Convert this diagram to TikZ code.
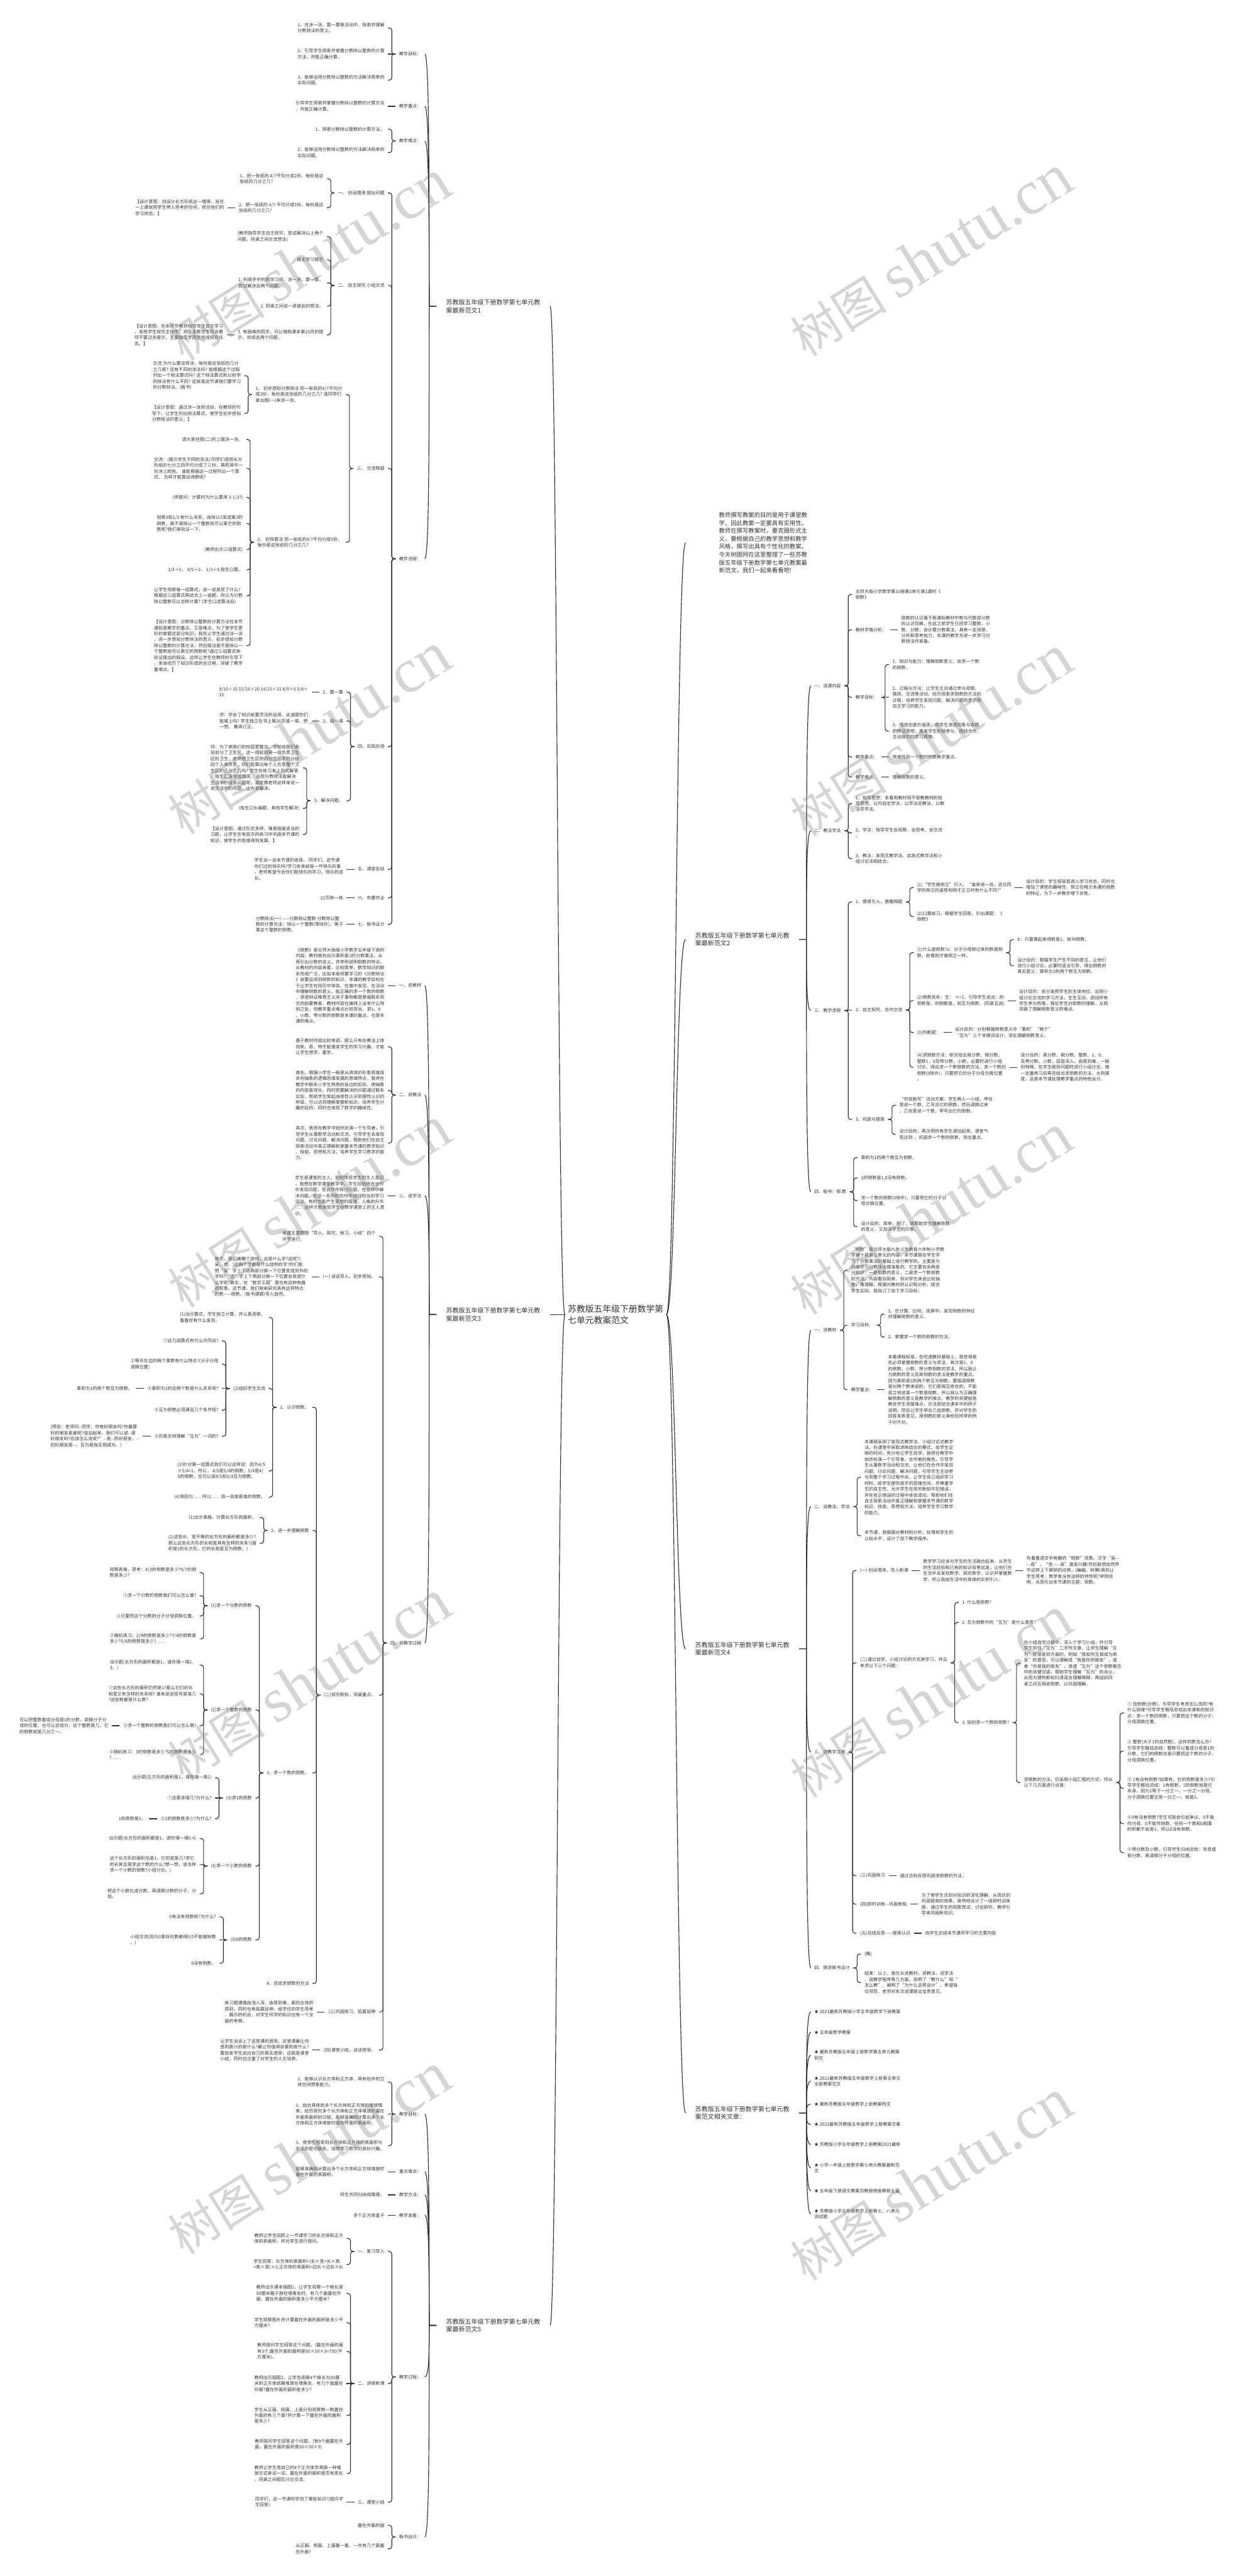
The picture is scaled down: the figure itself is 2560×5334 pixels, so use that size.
\documentclass[tikz,border=0pt]{standalone}
\usepackage{fontspec}
\setmainfont{Noto Sans CJK SC}
\newfontfamily\wmlatin{Liberation Serif}
\usetikzlibrary{calc}
\definecolor{txt}{HTML}{333333}
\definecolor{lc}{HTML}{333333}
\newcommand\myfs{\fontsize{9.2}{12.3}\selectfont}
\newcommand\myft{\fontsize{13}{16.5}\selectfont}
\newcommand\myfi{\fontsize{12.2}{16.4}\selectfont}
\newcommand\myfr{\fontsize{18}{24}\selectfont}
\tikzset{
 tl/.style={anchor=east, align=left, inner xsep=7pt, inner ysep=1pt, font=\myfs, text=txt},
 tr/.style={anchor=west, align=left, inner xsep=7pt, inner ysep=1pt, font=\myfs, text=txt},
 ttl/.style={anchor=west, align=left, inner xsep=20pt, inner ysep=1pt, font=\myft, text=txt},
 curv/.style={draw=lc, line width=1.5pt},
 wm/.style={rotate=32, text=gray, text opacity=0.33, inner sep=0pt},
}
\newcommand\mkconn[3]{%
 \path let \p1=(#1), \p2=(#2) in \pgfextra{\pgfmathsetmacro\mydy{abs(\y1-\y2)}\xdef\gdy{\mydy}};%
 \ifdim\gdy pt<1pt
   \draw[curv] (#1) -- (#2);%
 \else
   \pgfmathsetmacro\myrr{min(5,\gdy/2)}%
   \draw[curv, rounded corners=\myrr pt] (#1) -- ++(#3,0) |- (#2);%
 \fi}
\newcommand\lnode[4]{\node[tl] (#1) at ([xshift=-16pt]#2.west |- 0,#3) {#4};\mkconn{#2.west}{#1.east}{-8}}
\newcommand\rnode[4]{\node[tr] (#1) at ([xshift=16pt]#2.east |- 0,#3) {#4};\mkconn{#2.east}{#1.west}{8}}
\newcommand\ltnode[4]{\node[tl] (#1) at ([xshift=-24pt]#2.west |- 0,#3) {#4};\draw[curv] (#2.west) -- ++(-15,0) coordinate (tmp) .. controls ($(tmp)!0.5!(tmp |- #1.east)$) and (tmp |- #1.east) .. (#1.east);}
\newcommand\rtnode[4]{\node[tr] (#1) at ([xshift=24pt]#2.east |- 0,#3) {#4};\draw[curv] (#2.east) -- ++(15,0) coordinate (tmp) .. controls ($(tmp)!0.5!(tmp |- #1.west)$) and (tmp |- #1.west) .. (#1.west);}
\newcommand\rootl[1]{\draw[curv] let \p1=(root.west), \p2=(#1.east) in (\p1) .. controls ({(\x1+\x2)/2},\y1) and ({(\x1+\x2)/2},\y2) .. (\p2);}
\newcommand\rootr[1]{\draw[curv] let \p1=(root.east), \p2=(#1.west) in (\p1) .. controls ({(\x1+\x2)/2},\y1) and ({(\x1+\x2)/2},\y2) .. (\p2);}
\newcommand\wmtext{{\fontsize{100}{100}\selectfont 树图}\hspace{24pt}{\wmlatin\fontsize{130}{130}\selectfont shutu.cn}}
\begin{document}
\begin{tikzpicture}[x=1pt,y=-1pt]
\fill[white] (0,0) rectangle (2560,5334);
\useasboundingbox (0,0) rectangle (2560,5334);

\node[anchor=west, align=left, inner xsep=6pt, inner ysep=2pt, font=\myfr, text=txt] (root) at (1170,2722) {苏教版五年级下册数学第\\七单元教案范文};

\node[ttl] (ba) at (904,634) {苏教版五年级下册数学第七单元教\\案最新范文1};
\node[ttl] (bc) at (904,2722) {苏教版五年级下册数学第七单元教\\案最新范文3};
\node[ttl] (be) at (904,4815) {苏教版五年级下册数学第七单元教\\案最新范文5};
\node[ttl] (bb) at (1420,1945) {苏教版五年级下册数学第七单元教\\案最新范文2};
\node[ttl] (bd) at (1420,3414) {苏教版五年级下册数学第七单元教\\案最新范文4};
\node[ttl] (bf) at (1420,4375) {苏教版五年级下册数学第七单元教\\案范文相关文章：};
\node[anchor=west, align=left, inner xsep=7pt, font=\myfi, text=txt] (intro) at (1482,1124) {教师撰写教案的目的是用于课堂教\\学，因此教案一定要具有实用性。\\教师在撰写教案时，要克服形式主\\义，要根据自己的教学思想和教学\\风格，撰写出具有个性化的教案。\\今天树图网在这里整理了一些苏教\\版五年级下册数学第七单元教案最\\新范文，我们一起来看看吧!};

\rootl{ba}\rootl{bc}\rootl{be}\rootr{bb}\rootr{bd}\rootr{bf}
\draw[curv] let \p1=(root.east), \p2=([xshift=-62pt]intro.west) in (\p1) .. controls ({(\x1+\x2)/2},\y1) and ({(\x1+\x2)/2},\y2) .. (\p2);

% ================= Branch 1 =================
\ltnode{a1}{ba}{112}{教学目标：}
\ltnode{a2}{ba}{220}{教学重点：}
\ltnode{a3}{ba}{292}{教学难点：}
\ltnode{a4}{ba}{1157}{教学流程：}
\lnode{a11}{a1}{58}{1、在涂一涂、算一算等活动中，探索并理解\\分数除法的意义。}
\lnode{a12}{a1}{112}{2、引导学生探索并掌握分数除以整数的计算\\方法，并能正确计算。}
\lnode{a13}{a1}{166}{3、能够运用分数除以整数的方法解决简单的\\实际问题。}
\lnode{a21}{a2}{220}{引导学生探索并掌握分数除以整数的计算方法\\，并能正确计算。}
\lnode{a31}{a3}{267.5}{1、探索分数除以整数的计算方法。}
\lnode{a32}{a3}{316}{2、能够运用分数除以整数的方法解决简单的\\实际问题。}
\lnode{a41}{a4}{399.5}{一、 创设情境 提出问题}
\lnode{a42}{a4}{591}{二、 自主探究 小组交流}
\lnode{a43}{a4}{970}{三、 交流释疑}
\lnode{a44}{a4}{1546}{四、实践应用}
\lnode{a45}{a4}{1800}{五、课堂总结}
\lnode{a46}{a4}{1859}{六、布置作业}
\lnode{a47}{a4}{1914}{七、板书设计}
\lnode{a411}{a41}{370}{1、把一张纸的 4/7平均分成2份，每份是这\\张纸的几分之几?}
\lnode{a412}{a41}{430}{2、把一张纸的 4/7 平均分成3份，每份是这\\张纸的几分之几?}
\lnode{a4121}{a412}{430}{【设计意图：创设分长方形纸这一情境，旨在\\一上课就把学生带入思考的空间，抓住他们的\\学习状态。】}
\lnode{a421}{a42}{490}{(教师指导学生自主探究，尝试解决以上两个\\问题，同桌之间交流想法)}
\lnode{a422}{a42}{538}{自主学习提示}
\lnode{a423}{a42}{586}{1. 利用手中的的学习纸，涂一涂，算一算，\\尝试解决这两个问题。}
\lnode{a424}{a42}{634}{2. 同桌之间说一说彼此的想法。}
\lnode{a425}{a42}{693.5}{3. 有困难的同学，可以借助课本第25页的提\\示，完成这两个问题。}
\lnode{a4251}{a425}{693.5}{【设计意图：在本环节教师指导学生自主学习\\，发挥学生探究主体性，对于多数学生而言教\\师不要过多提示，主要指导学困生完成探究任\\务。】}
\lnode{a431}{a43}{817}{1、 初步感知分数除法 把一张纸的4/7平均分\\成2份，每份是这张纸的几分之几? 请同学们\\拿出图(一)来涂一涂。}
\lnode{a432}{a43}{1123}{2、 初探算法 把一张纸的4/7平均分成3份，\\每份是这张纸的几分之几?}
\lnode{a4311}{a431}{778}{交流:为什么要这样涂，每份是这张纸的几分\\之几呢? 还有不同的涂法吗? 能根据这个过程\\列出一个除法算式吗? 这个除法算式和以前学\\的除法有什么不同? 这就是这节课我们要学习\\的分数除法。(板书)}
\lnode{a4312}{a431}{856}{【设计意图：通过涂一涂的活动，在教师的引\\导下，让学生列出除法算式，使学生初步感知\\分数除法的意义。】}
\lnode{a4321}{a432}{910}{请大家在图(二)的上面涂一涂。}
\lnode{a4322}{a432}{970}{交流：(展示学生不同的涂法) 同学们是把长方\\形纸的七分之四平均分成了三份，再把其中一\\份涂上颜色。 谁能根据这一过程列出一个算\\式。 怎样才能算出得数呢?}
\lnode{a4323}{a432}{1030}{(师提问：计算时为什么要用 3-1/3?)}
\lnode{a4324}{a432}{1084}{观察3和1/3 有什么关系，由除以3变成乘3的\\倒数，是不是除以一个整数就可以乘它的倒\\数呢?我们来验证一下。}
\lnode{a4325}{a432}{1138}{(教师出示三组算式)}
\lnode{a4326}{a432}{1180}{1/3÷5，  4/5÷3，  1/3÷5 指生口算。}
\lnode{a4327}{a432}{1234}{让学生观察每一组算式，说一说发现了什么?\\根据这三组算式再结合上一道题，你认为分数\\除以整数可以怎样计算? (学生口述算法后)}
\lnode{a4328}{a432}{1337}{【设计意图：分数除以整数的计算方法在本节\\课既是教学的重点，又是难点，为了使学生更\\好的掌握这部分知识，我先让学生通过涂一涂\\，进一步感知分数除法的意义，初步感知分数\\除以整数的计算方法，然后提出是不是除以一\\个整数就可以乘它的倒数呢?通过三组算式来\\验证提出的假设，这样让学生在教师的引导下\\，亲身经历了知识形成的全过程，突破了教学\\重难点。】}
\lnode{a441}{a44}{1433}{1、算一算}
\lnode{a4411}{a441}{1433}{9/10÷30 15/16÷20 14/15÷21 8/9÷6 5/6÷\\15}
\lnode{a442}{a44}{1493}{2、填一填}
\lnode{a4421}{a442}{1493}{师：学会了知识就要灵活的运用，这道题你们\\能填上吗? 学生独立在书上第26页填一填，想\\一想。 集体订正。}
\lnode{a443}{a44}{1658}{3、解决问题。}
\lnode{a4431}{a443}{1590}{师：为了使我们的校园更整洁，学校给我们各\\班划分了卫生区，这一周轮到第一组负责卫生\\区的卫生，老师想卫生区的四分之三平均分给\\四个人来负责，你们能算出每个人负责整个卫\\生区的几分之几吗? 学生在练习本上列式解答\\，指生汇报完成情况。 运用分数除法能解决\\生活中的很多问题呢，谁能像老师这样来说一\\说生活中的问题，让大家解决。}
\lnode{a4432}{a443}{1674}{(指生口头编题，其他学生解决)}
\lnode{a4433}{a443}{1728}{【设计意图：通过形式多样、难易程度适当的\\习题，让学生在有层次的练习中巩固本节课的\\知识，使学生的思维得到发展。】}
\lnode{a451}{a45}{1800}{学生谈一谈本节课的收获。 同学们，这节课\\你们过的快乐吗?学习本来就是一件快乐的事\\，老师希望今后你们能快乐的学习，快乐的成\\长。}
\lnode{a461}{a46}{1859}{22页练一练}
\lnode{a471}{a47}{1914}{分数除法(一) ——分数除以整数 分数除以整\\数的计算方法：除以一个整数(零除外)，等于\\乘这个整数的倒数。}

% ================= Branch 3 =================
\ltnode{c1}{bc}{2041}{一、说教材}
\ltnode{c2}{bc}{2267.5}{二、说教法}
\ltnode{c3}{bc}{2476}{三、说学法}
\ltnode{c4}{bc}{3402}{四、说教学过程}
\lnode{c11}{c1}{2041}{《倒数》是北师大版版小学数学五年级下册的\\内容。教材首先出示乘积是1的分数乘法，从\\而引出分数的含义，并举例说明倒数的特点。\\从教材的内容来看，比较简单，数学知识的联\\系性很广泛，比如本册将要学习的《分数除法\\》就要运用到倒数的知识，本课的教学目标在\\于让学生在经历中体验、在做中发现、在活动\\中理解倒数的意义，能正确的求一个数的倒数\\，渗透辩证唯物主义关于事物都是普遍联系观\\念的启蒙教育。教材内容在编排上没有什么特\\别之处，但教学重点难点比较突出，求1、0\\、小数、带分数的倒数是本课的重点，也是本\\课的难点。}
\lnode{c21}{c2}{2167.6}{基于教材内容比较单调，那么只有在教法上体\\现新、奇、特才能激发学生的学习兴趣，才能\\让学生想学，要学。}
\lnode{c22}{c2}{2258}{首先，根据小学生一般是从具体的形象思维逐\\步向抽象的逻辑思维发展的思维特点，我将在\\教学中联系小学生熟悉的身边的实际，使抽象\\的内容直观化，同时把要解决的问题通过联系\\实际，帮助学生架起由感性认识到理性认识的\\桥梁，可以达到理解掌握新知识，培养学生兴\\趣的目的，同时也体现了数学的趣味性。}
\lnode{c23}{c2}{2367}{其次，我将在教学中始终扮演一个引导者，引\\导学生从事数学活动和交流，引导学生去发现\\问题，讨论问题，解决问题，帮助他们在自主\\探索活动中真正理解和掌握本节课的数学知识\\、技能、思想和方法，培养学生学习数学的能\\力。}
\lnode{c31}{c3}{2476}{学生是课堂的主人，如何体现学生的主人意识\\，我想在数学课堂教学中，学生应始终在合作\\中发现问题，在合作中探讨问题，在合作中解\\决问题。在这一系列的合作中进行恰当的学习\\活动，有时也能产生思想的碰撞，人格的升华\\……这样才能体现学生在数学课堂上的主人意\\识。}
\lnode{c41}{c4}{2560}{本课主要围绕“导入、探究、练习、小结”四个\\环节进行。}
\lnode{c42}{c4}{2644}{(一) 谈话导入，初步感知。}
\lnode{c43}{c4}{3510}{(二)探究新知，突破重点。}
\lnode{c44}{c4}{4166}{(三)巩固练习，拓展延伸}
\lnode{c45}{c4}{4245}{(四)课堂小结，谈谈感受。}
\lnode{c421}{c42}{2644}{首先，我们来做个游戏，这是什么字?这呢?(\\吴、杏、)这两个字都是什么结构的字?你们能\\把“吴”字上下这两部分换一下位置变成另外的\\字吗?“杏”字上下两部分换一下位置会变成什\\么字呢?其实，在“数学王国”里也有这种有趣\\的现象。这节课，我们就来研究具有这样特点\\的数——倒数。(板书课题)导入自然。}
\lnode{c441}{c44}{4166}{练习题遵循由浅入深、由易到难，面向全体的\\原则，同时也有拓展延伸，给学优的学生思考\\、展示的机会，对学生所学的知识也有一个全\\面的考察。}
\lnode{c451}{c45}{4245}{让学生谈谈上了这堂课的感受。这堂课最让你\\感到高兴的是什么?最让你值得自豪的是什么?\\要启发学生说出自己的真实感受，这既是课堂\\小结，同时也注重了对学生的人文培养。}
\lnode{c431}{c43}{2914}{1、认识倒数。}
\lnode{c432}{c43}{3169}{2、进一步理解倒数}
\lnode{c433}{c43}{3671}{3、求一个数的倒数。}
\lnode{c434}{c43}{4107}{4、总结求倒数的方法}
\lnode{c4311}{c431}{2728}{(1)出示算式，学生独立计算，并认真观察，\\看看你有什么发现。}
\lnode{c4312}{c431}{2875}{(2)组织学生交流}
\lnode{c4313}{c431}{3046}{(3)针对第一组算式我们可以这样说：因为4/5\\×5/4=1，所以， 4/5是5/4的倒数，5/4是4/\\5的倒数，也可以说4/5和5/4互为倒数。}
\lnode{c4314}{c431}{3100}{(4)用因为……所以……说一说谁是谁的倒数。}
\lnode{c43121}{c4312}{2776.6}{①这几组算式有什么共同点?}
\lnode{c43122}{c4312}{2824.6}{②等号左边的两个乘数有什么特点?(分子分母\\调换位置)}
\lnode{c43123}{c4312}{2875}{③乘积为1的这两个数是什么关系呢?}
\lnode{c43124}{c4312}{2920}{④互为倒数必须满足几个条件呢?}
\lnode{c43125}{c4312}{2974}{⑤你是怎样理解“互为”一词的?}
\lnode{c431231}{c43123}{2875}{乘积为1的两个数互为倒数。}
\lnode{c431251}{c43125}{2974}{(预设：老师问-{}-同学，你有好朋友吗?你最要\\好的朋友是谁呢?请站起来。我们可以说-{}-是\\好朋友吗?应该怎么说呢?”-{}-是-{}-的好朋友，-{}-\\的好朋友是-{}-。互为是指互相成为。)}
\lnode{c4321}{c432}{3142}{(1)出示表格，计算长方形的面积。}
\lnode{c4322}{c432}{3195.7}{(2)这些长、宽不等的长方形的面积都是多少?\\那么这些长方形的长和宽具有怎样的关系?(面\\积是1的长方形，它的长和宽互为倒数。)}
\lnode{c4331}{c433}{3325}{(1)求一个分数的倒数}
\lnode{c4332}{c433}{3540.7}{(2)求一个整数的倒数}
\lnode{c4333}{c433}{3723}{(3)求1的倒数}
\lnode{c4334}{c433}{3864}{(4)求一个小数的倒数}
\lnode{c4335}{c433}{4017}{(5)0的倒数}
\lnode{c43311}{c4331}{3256}{观察表格，思考：4/3的倒数是多少?9/7的倒\\数是多少?}
\lnode{c43312}{c4331}{3304}{①求一个分数的倒数我们可以怎么做?}
\lnode{c43313}{c4331}{3346}{②只要把这个分数的分子分母调换位置。}
\lnode{c43314}{c4331}{3393.5}{③随机练习：2/9的倒数是多少?7/4的倒数是\\多少?5/6的倒数是多少?……}
\lnode{c43321}{c4332}{3448}{出示题(长方形的面积都是1，请你填一填2、\\3、)}
\lnode{c43322}{c4332}{3507.5}{①这些长方形的面积仍然是1?那么它们的长\\和宽又有怎样的关系呢? 谁来说说括号里填几\\?这些数都是什么数?}
\lnode{c43323}{c4332}{3573.4}{②求一个整数的倒数我们可以怎么做?}
\lnode{c43324}{c4332}{3633}{③随机练习：3的倒数是多少?5的倒数是多少\\?……}
\lnode{c433231}{c43323}{3573.4}{可以把整数看成分母是1的分数，调换分子分\\母的位置。也可以总结为：这个整数是几，它\\的倒数就是几分之一。}
\lnode{c43331}{c4333}{3681}{出示题(正方形的面积是1，请你填一填1)}
\lnode{c43332}{c4333}{3723}{①这里该填几?为什么?}
\lnode{c43333}{c4333}{3766}{②1的倒数是多少?为什么?}
\lnode{c433331}{c43333}{3766}{1的倒数是1。}
\lnode{c43341}{c4334}{3807}{出示题(长方形的面积都是1，请你填一填0.4)}
\lnode{c43342}{c4334}{3861}{这个长方形的面积也是1，它的宽是几?求它\\的长其实是求这个数的什么?想一想，该怎样\\求一个小数的倒数?小组讨论。)}
\lnode{c43343}{c4334}{3921.5}{把这个小数化成分数，再调换分数的分子、分\\母。}
\lnode{c43351}{c4335}{3969}{0有没有倒数呢?为什么?}
\lnode{c43352}{c4335}{4017}{小组交流(因为0乘任何数都得0;0不能做除数\\。)}
\lnode{c43353}{c4335}{4065}{0没有倒数。}

% ================= Branch 5 =================
\ltnode{e1}{be}{4377.6}{教学目标：}
\ltnode{e2}{be}{4497}{重点难点：}
\ltnode{e3}{be}{4544.7}{教学方法：}
\ltnode{e4}{be}{4587}{教学准备：}
\ltnode{e5}{be}{4921.7}{教学过程：}
\ltnode{e6}{be}{5253}{板书设计：}
\lnode{e11}{e1}{4311}{1、能够认识长方体和正方体，具有初步的立\\体空间想象能力。}
\lnode{e12}{e1}{4377.6}{2、结合具体的多个长方体和正方体的堆放情\\景，经历探究多个长方体和正方体堆放时露在\\外面表面积的过程，能够准确的计算出多个长\\方体和正方体堆放时露在外面的表面积。}
\lnode{e13}{e1}{4443}{3、使学生感受到长方体和正方体的表面积与\\生活的密切联系，培养学习数学的良好兴趣。}
\lnode{e21}{e2}{4497}{能够准确的计算出多个长方体和正方体堆放时\\露在外面的表面积。}
\lnode{e31}{e3}{4544.7}{师生共同归纳和推理。}
\lnode{e41}{e4}{4587}{多个正方体盒子}
\lnode{e51}{e5}{4662}{一、复习导入}
\lnode{e52}{e5}{4935.4}{二、讲授新课}
\lnode{e53}{e5}{5181}{三、课堂小结}
\lnode{e511}{e51}{4635}{教师让学生回顾上一节课学习的长方体和正方\\体的表面积，并对学生进行提问。}
\lnode{e512}{e51}{4689}{学生回答：长方体的表面积=(长×宽+长×高\\+高×宽)×2;正方体的表面积=边长×边长×6)}
\lnode{e521}{e52}{4749}{教师出示课本插图1，让学生观察一个棱长是\\50厘米箱子放在墙角处时，有几个面露在外\\面，露在外面的面积是多少平方厘米?}
\lnode{e522}{e52}{4809.5}{学生观察图片并计算露在外面的面积是多少平\\方厘米?}
\lnode{e523}{e52}{4869}{教师提问学生回答这个问题。(露在外面的面\\有3个;露在外面的面积是50×50×3=750(平\\方厘米)。}
\lnode{e524}{e52}{4935.4}{教师出示插图2，让学生观察4个棱长为50厘\\米的正方体纸箱堆放在墙角处，有几个面露在\\外面?露在外面的面积是多少?}
\lnode{e525}{e52}{5001.6}{学生从正面、侧面、上面分别观察数一数露在\\外面的有几个面?并计算一下露在外面的面积\\是多少?}
\lnode{e526}{e52}{5061.4}{教师提问学生回答这个问题，(有9个面露在外\\面，露在外面的面积是50×50×9)}
\lnode{e527}{e52}{5121.8}{教师让学生用自己的4个正方体学具换一种堆\\放方式来试一试，露在外面的面积是否有变化\\，同桌之间相互讨论交流。}
\lnode{e531}{e53}{5181}{同学们，这一节课你学到了哪些知识?(提问学\\生回答)}
\lnode{e61}{e6}{5229}{露在外面的面}
\lnode{e62}{e6}{5277.6}{从正面、侧面、上面看一看，一共有几个面露\\在外面?}

% ================= Branch 2 =================
\rtnode{b1}{bb}{1420}{一、说课内容}
\rtnode{b2}{bb}{1720}{二、教法学法}
\rtnode{b3}{bb}{2092.6}{三、教学流程}
\rtnode{b4}{bb}{2468}{四、板书：倒 数}
\rnode{b11}{b1}{1231}{北师大版小学数学第10册第3单元第1课时《\\倒数》}
\rnode{b12}{b1}{1304}{教材学情分析：}
\rnode{b13}{b1}{1444}{教学目标：}
\rnode{b14}{b1}{1567.5}{教学重点：}
\rnode{b15}{b1}{1609}{教学难点：}
\rnode{b121}{b12}{1304}{倒数的认识属于新课标教材中数与代数部分数\\的认识范畴，在此之前学生已经学习整数、小\\数、分数，会计算分数乘法，具有一定观察、\\分析和思考能力，本课的教学为进一步学习分\\数除法作准备。}
\rnode{b131}{b13}{1376}{1、知识与能力：理解倒数意义，会求一个数\\的倒数。}
\rnode{b132}{b13}{1444}{2、过程与方法：让学生主动通过参与观察、\\猜测、交流等活动，经历探索求倒数的方法的\\过程，培养学生发现问题、解决问题的意识和\\自主学习的能力。}
\rnode{b133}{b13}{1513.7}{3、情感态度价值观：向学生渗透现象与本质\\的辨证思想，激发学生积极参与、团结合作、\\主动探究的学习精神。}
\rnode{b141}{b14}{1567.5}{快速找到一个数的倒数教学重点。}
\rnode{b151}{b15}{1609}{理解倒数的意义。}
\rnode{b21}{b2}{1664}{1、指导思想：本着用教材而不是教教材的指\\导思想，以内容定学法，以学法定教法，以教\\法导学法。}
\rnode{b22}{b2}{1724.5}{2、学法：指导学生会观察、会思考、会交流\\。}
\rnode{b23}{b2}{1778}{3、教法：发现式教学法、启发式教学法和小\\组讨论法相结合。}
\rnode{b31}{b3}{1867.7}{1、情境引入，激趣揭题}
\rnode{b32}{b3}{2091.6}{2、自主探究，合作交流}
\rnode{b33}{b3}{2318}{3、巩固与提高}
\rnode{b311}{b31}{1837.7}{(1)“学生做倒立”引入：“谁来说一说，这位同\\学的倒立的姿势和刚才正立时有什么不同?”}
\rnode{b312}{b31}{1897.8}{(2)口算练习。根据学生回答，引出课题：《\\倒数》}
\rnode{b3111}{b311}{1837.7}{设计目的：学生很容易进入学习状态，同时也\\增加了课堂的趣味性，倒立在暗示本课的倒数\\的特征，为下一步教学埋下伏笔。}
\rnode{b321}{b32}{1972.6}{(1)什么是倒数?a：分子分母倒过来的数是倒\\数。就像刚才做倒立一样。}
\rnode{b322}{b32}{2072}{(2)倒数关系：生：  ×=1，引导学生说出：的\\倒数是，的倒数是，和互为倒数。(同桌互说)}
\rnode{b323}{b32}{2138}{(3)判断题：}
\rnode{b324}{b32}{2210}{(4)求倒数方法：依次给出真分数、假分数、\\整数1，0及带分数，小数，必要时进行小组\\讨论，得出求一个数倒数的方法：求一个数的\\倒数(0除外)，只要把它的分子分母交换位置\\。}
\rnode{b3211}{b321}{1945.7}{b：只要乘起来得数是1，就叫倒数。}
\rnode{b3212}{b321}{2000}{设计目的：根据学生产生不同的意见，让他们\\进行小组讨论，必要时适当引导，得出倒数的\\真实意义：乘积为1的两个数互为倒数。}
\rnode{b3221}{b322}{2072}{设计目的：充分发挥学生的主体地位，运用小\\组讨论交流的学习方法，生生互动，调动所有\\学生参与热情，强化学生对倒数的理解，从而\\突破了理解倒数意义的难点。}
\rnode{b3231}{b323}{2138}{设计目的：分别根据倒数意义中“乘积”“两个”\\“互为”三个关键词设计，深化理解倒数意义。}
\rnode{b3241}{b324}{2210}{设计目的：真分数、假分数、整数、1，0，\\及带分数、小数，层层深入，由易到难，一般\\到特殊，在学生碰到问题时进行小组讨论，做\\一定量练习后再总结出求倒数的方法，水到渠\\成，这是本节课处理教学重点的特色设计。}
\rnode{b331}{b33}{2288.5}{“你说我写”活动方案：学生两人一小组，甲任\\意说一个数，乙写出它的倒数，然后调换过来\\，乙任意说一个数，甲写出它的倒数。}
\rnode{b332}{b33}{2349}{设计目的：再次把所有学生调动起来，课堂气\\氛达到-，巩固求一个数的倒数，突出重点。}
\rnode{b41}{b4}{2397}{乘积为1的两个数互为倒数。}
\rnode{b42}{b4}{2439}{1的倒数是1,0没有倒数。}
\rnode{b43}{b4}{2486}{求一个数的倒数(0除外)，只要把它的分子分\\母交换位置。}
\rnode{b44}{b4}{2540}{设计目的：简单，明了，既帮助学生理解倒数\\的意义，又加深学生的印象。}

% ================= Branch 4 =================
\rtnode{d1}{bd}{2754.4}{一、说教材}
\rtnode{d2}{bd}{3119.5}{二、说教法、学法}
\rtnode{d3}{bd}{3628}{三、说教学过程}
\rtnode{d4}{bd}{4075}{四、简述板书设计}
\rnode{d11}{d1}{2630}{“倒数”是北师大版九年义务教育六年制小学数\\学第十册第三单元的内容。本节课是在学生学\\习了分数乘法的基础上进行教学的，主要是为\\后面学习分数除法做准备的，它主要包含两部\\分知识：一是倒数的意义，二是求一个数倒数\\的方法。内容看似简单，但对学生来说比较抽\\象，难理解。根据对教材的认识和分析，结合\\学生实际，我拟订了如下学习目标：}
\rnode{d12}{d1}{2744}{学习目标：}
\rnode{d13}{d1}{2877.5}{教学重点：}
\rnode{d121}{d12}{2721}{1、在计算、比较、观察中，发现倒数的特征\\并理解倒数的意义。}
\rnode{d122}{d12}{2768.5}{2、掌握求一个数的倒数的方法。}
\rnode{d131}{d13}{2877.5}{本着课程标准，在吃透教材基础上，我觉得首\\先必须掌握倒数的意义与求法，其次是1、0\\的倒数，小数、带分数倒数的求法，所以我认\\为倒数的意义及其倒数的求法是教学的重点。\\因为乘积是1的两个数互为倒数，要强调倒数\\是对两个数来说的，它们是相互依存的，不能\\孤立地说某一个数是倒数，所以我认为正确理\\解倒数的意义是教学的难点。教学的关键就是\\教会学生克服难点，办法是结合课本中的例子\\说明，然后让学生举出几组倒数，并对学生的\\回答发表意见，用倒数的意义来检验所举的例\\子对不对。}
\rnode{d21}{d2}{3059}{本课我采用了发现式教学法、小组讨论式教学\\法。在课堂中采取讲练结合的模式，给学生足\\够的时间，充分地让学生自学。我将在教学中\\始终扮演一个引导者，合作者的角色，引导学\\生从事数学活动和交流，让他们在合作中发现\\问题、讨论问题、解决问题，引导学生主动参\\与到整个学习过程中去，让学生自己组织学习\\材料，给学生提供放手的思维空间，并尊重学\\生的自主性，允许学生在探究新知中犯错误，\\并在修正错误的过程中体会成功。帮助他们在\\自主探索活动中真正理解和掌握本节课的数学\\知识、技能、思想和方法，培养学生学习数学\\的能力。}
\rnode{d22}{d2}{3180}{本节课，我根据对教材的分析、处理和学生的\\认知水平，设计了如下教学程序。}
\rnode{d31}{d3}{3252}{(一) 创设情境，导入新课}
\rnode{d32}{d3}{3443}{(二)通过自学、小组讨论的方式来学习，并且\\考虑以下三个问题：}
\rnode{d33}{d3}{3884}{(三)巩固练习}
\rnode{d34}{d3}{3943}{(四)即时训练—巩固新知}
\rnode{d35}{d3}{4003}{(五)总结反思——提高认识}
\rnode{d311}{d31}{3252}{数学学习应该与学生的生活融合起来，从学生\\的生活经验和已有的知识背景出发，让他们在\\生活中去发现数学、探究数学、认识并掌握数\\学，所以我由生活中的具体的实例引入：}
\rnode{d3111}{d311}{3252}{先看看语文中有趣的“倒数”现象。汉字“吴—\\—吞”，“杏——呆”激发兴趣!然后联想自然界\\中这样上下颠倒的动物，(蝙蝠、树獭)再到让\\学生思考：数学有没有这样的特性呢?举例说\\明，从而引出本节课的主题：倒数。}
\rnode{d321}{d32}{3318}{1. 什么是倒数?}
\rnode{d322}{d32}{3359.5}{2. 互为倒数中的“互为”是什么意思?}
\rnode{d323}{d32}{3567}{3. 如何求一个数的倒数?}
\rnode{d3231}{d323}{3444}{在小组自学过程中，深入个学习小组，并引导\\学生抓住“互为”二字作文章，让学生理解“互\\为”应该是双方面的，例如“我和你互相成为朋\\友”的意思，可以理解成“我是你的朋友”，或\\者“你是我的朋友”，渗透“互为”这个倒数概念\\中的关键词语，帮助学生理解“互为”的含义，\\从而为建构新知扫清语言理解障碍，再组织同\\桌之间互相说倒数，以巩固理解。}
\rnode{d3232}{d323}{3691}{求倒数的方法，仍采用小组汇报的方式，师从\\以下几方面进行点拨：}
\rnode{d32321}{d3232}{3547}{① 找倒数(分数)，引导学生考虑怎么找的?有\\什么规律?引导学生概括总结出本课新的知识\\点：求一个数的倒数，只要把这个数的分子、\\分母调换位置。}
\rnode{d32322}{d3232}{3625.6}{② 整数(大于1的自然数)，这样的数怎么办?\\引导学生概括总结：整数可以看成分母是1的\\分数，它们的倒数也是只要把这个数的分子、\\分母调换位置。}
\rnode{d32323}{d3232}{3703}{③ 1有没有倒数?如果有，它的倒数是多少?引\\导学生概括总结：1有倒数，1的倒数就是它\\本身，因为1等于一分之一，一分之一分母、\\分子调换位置还是一分之一，就是1。}
\rnode{d32324}{d3232}{3776}{④0有没有倒数?学生可能会引起争议，0不能\\作分母，0不能作除数，任何一个数和0相乘\\的积都不会是1，所以0没有倒数。}
\rnode{d32325}{d3232}{3836}{⑤带分数及小数，引导学生归纳总结：先变成\\假分数，再调换分子分母的位置。}
\rnode{d331}{d33}{3884}{通过达标反馈巩固求倒数的方法。}
\rnode{d341}{d34}{3943}{为了使学生达到对知识的深化理解，从而达到\\巩固提高的效果，我特地设计了一组即时训练\\题，通过学生的观察尝试，讨论研究，教师引\\导来巩固新知识。}
\rnode{d351}{d35}{4003}{由学生总结本节课所学习的主要内容}
\rnode{d41}{d4}{4046}{(略)}
\rnode{d42}{d4}{4105}{结束：以上，我仅从说教材，说教法，说学法\\，说教学程序等几方面，说明了“教什么”和“\\怎么教”，阐明了“为什么这样设计”。希望各\\位领导、老师对本次说课提出宝贵意见。}

% ================= Branch 6 =================
\rtnode{f1}{bf}{4165.7}{★ 2021最新苏教版小学五年级数学下册教案}
\rtnode{f2}{bf}{4207.9}{★ 五年级数学教案}
\rtnode{f3}{bf}{4255.6}{★ 最新苏教版五年级上册数学第五单元教案\\例文}
\rtnode{f4}{bf}{4309.4}{★ 2021最新苏教版五年级数学上册第五单元\\全部教案范文}
\rtnode{f5}{bf}{4357}{★ 最新苏教版五年级数学上册教案例文}
\rtnode{f6}{bf}{4398.8}{★ 2021最新苏教版五年级数学上册教案文案}
\rtnode{f7}{bf}{4440.5}{★ 苏教版小学五年级数学上册教案2021最新}
\rtnode{f8}{bf}{4489}{★ 小学一年级上册数学第七单元教案最新范\\文}
\rtnode{f9}{bf}{4536.5}{★ 五年级下册语文教案苏教版借鉴模板五篇}
\rtnode{f10}{bf}{4584.5}{★ 苏教版小学五年级数学上册第七、八单元\\测试题}

% ================= watermark =================
\foreach \yy in {540,1520,2500,3480,4460} {\node[wm] (wmL\yy) at (640,\yy) {\wmtext};}
\foreach \yy in {530,1525,2515,3515,4515} {\node[wm] (wmR\yy) at (1928,\yy) {\wmtext};}
\end{tikzpicture}
\end{document}
